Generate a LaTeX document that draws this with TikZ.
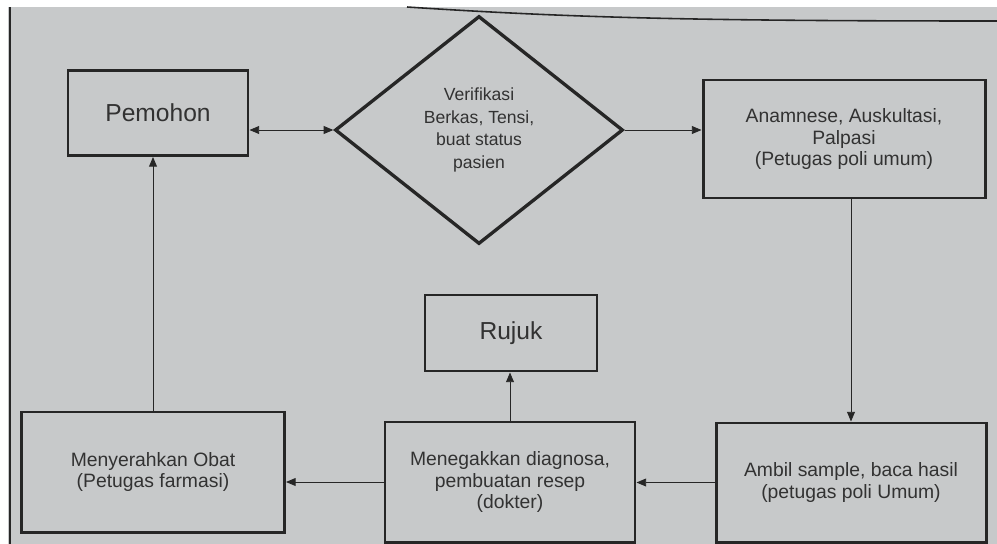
\documentclass[tikz,border=0pt]{standalone}
\usepackage{fontspec}
\setmainfont{Liberation Sans}
\usetikzlibrary{shapes.geometric,arrows.meta}
\definecolor{paper}{RGB}{199,201,202}
\definecolor{ink}{RGB}{38,38,38}
\definecolor{print}{RGB}{50,50,50}

\begin{document}
\begin{tikzpicture}
    [>={Triangle[length=5.5pt,width=4.5pt]},
    box/.style={rectangle, draw=ink, line width=1.7pt, align=center, text=print, font=\fontsize{11}{12.5}\selectfont, inner sep=2pt},
    bigbox/.style={box, font=\fontsize{14}{16}\selectfont},
    decision/.style={diamond, draw=ink, line width=1.9pt, align=center, text=print, font=\fontsize{10}{13}\selectfont, inner sep=0pt},
    arr/.style={draw=ink, line width=0.5pt},]

    \useasboundingbox (0,0) rectangle (19.94,-10.88);
    \fill[white] (0,0) rectangle (19.94,-10.88);
    \fill[paper] (0.16,-0.14) rectangle (19.94,-10.88);
    \draw[ink, line width=0.8pt] (0.2,-0.14) -- (0.2,-10.88);
    \draw[ink, line width=0.9pt] (8.14,-0.14) .. controls (11.5,-0.36) and (14,-0.42) .. (19.94,-0.42);

    \node[bigbox, minimum width=3.6cm, minimum height=1.7cm] (pemohon) at (3.16,-2.26) {Pemohon};
    \node[decision, minimum width=5.76cm, minimum height=4.56cm] (verif) at (9.58,-2.6)
        {Verifikasi\\Berkas, Tensi,\\buat status\\pasien};
    \node[box, minimum width=5.64cm, minimum height=2.36cm] (anam) at (16.88,-2.78)
        {Anamnese, Auskultasi,\\Palpasi\\(Petugas poli umum)};
    \node[bigbox, minimum width=3.44cm, minimum height=1.52cm] (rujuk) at (10.22,-6.66) {Rujuk};
    \node[box, minimum width=5.26cm, minimum height=2.4cm] (obat) at (3.06,-9.44)
        {Menyerahkan Obat\\(Petugas farmasi)};
    \node[box, minimum width=5cm, minimum height=2.4cm] (diagnosa) at (10.2,-9.64)
        {Menegakkan diagnosa,\\pembuatan resep\\(dokter)};
    \node[box, minimum width=5.4cm, minimum height=2.38cm] (ambil) at (17.02,-9.65)
        {Ambil sample, baca hasil\\(petugas poli Umum)};

    \draw[arr, <->] (pemohon.east |- verif.west) -- (verif.west);
    \draw[arr, ->] (verif.east) -- (verif.east -| anam.west);
    \draw[arr, ->] (anam.south -| ambil.north) -- (ambil.north);
    \draw[arr, ->] (ambil.west) -- (ambil.west -| diagnosa.east);
    \draw[arr, ->] (diagnosa.west) -- (diagnosa.west -| obat.east);
    \draw[arr, ->] (diagnosa.north) -- (diagnosa.north |- rujuk.south);
    \draw[arr, ->] (obat.north) -- (obat.north |- pemohon.south);

\end{tikzpicture}
\end{document}
